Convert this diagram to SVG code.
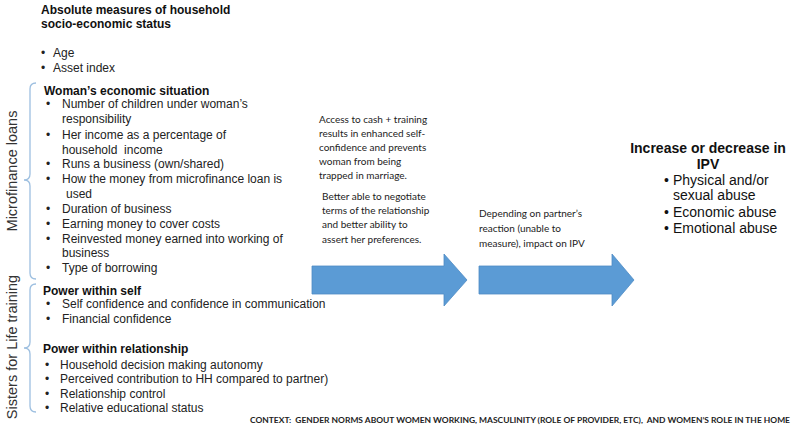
<svg xmlns="http://www.w3.org/2000/svg" width="794" height="432" viewBox="0 0 794 432">
<style>
.h{font-family:"Liberation Sans",Arial,sans-serif;font-weight:bold;font-size:12px;fill:#111}
.t{font-family:"Liberation Sans",Arial,sans-serif;font-size:12px;fill:#222}
.side{font-family:"Liberation Sans",Arial,sans-serif;font-size:14.5px;fill:#333}
.c{font-family:Lato,"Open Sans",sans-serif;font-size:10px;fill:#222}
.r{font-family:"Liberation Sans",Arial,sans-serif;font-size:14px;fill:#111}
.rb{font-family:"Liberation Sans",Arial,sans-serif;font-size:14px;font-weight:bold;fill:#111}
.ctx{font-family:Lato,"Open Sans",sans-serif;font-size:7.8px;font-weight:bold;fill:#222;white-space:pre}
.br{fill:none;stroke:#9dbfe0;stroke-width:1.3}
.arr{fill:#5b9bd5;stroke:#4f8cc4;stroke-width:0.8}
.pre{white-space:pre}
</style>
<rect width="794" height="432" fill="#fff"/>
<g id="household">
<text class="h" x="41" y="14">Absolute measures of household</text>
<text class="h" x="41" y="28">socio-economic status</text>
<text class="t" x="41" y="57">•</text><text class="t" x="53" y="57">Age</text>
<text class="t" x="41" y="72">•</text><text class="t" x="53" y="72">Asset index</text>
</g>
<g id="microfinance">
<path class="br" d="M36,83 Q30,83 30,89 L30,174 Q30,180 24,180 Q30,180 30,186 L30,273 Q30,279 36,279"/>
<text class="side" transform="translate(16.5,171) rotate(-90)" text-anchor="middle">Microfinance loans</text>
<text class="h" x="44" y="95">Woman’s economic situation</text>
<g class="t">
<text x="46" y="108">•</text><text x="62" y="108">Number of children under woman’s</text>
<text x="62" y="123">responsibility</text>
<text x="46" y="139">•</text><text x="62" y="139">Her income as a percentage of</text>
<text class="pre" x="62" y="154" xml:space="preserve">household  income</text>
<text x="46" y="168">•</text><text x="62" y="168">Runs a business (own/shared)</text>
<text x="46" y="183">•</text><text x="62" y="183">How the money from microfinance loan is</text>
<text x="66" y="198">used</text>
<text x="46" y="213">•</text><text x="62" y="213">Duration of business</text>
<text x="46" y="228">•</text><text x="62" y="228">Earning money to cover costs</text>
<text x="46" y="243">•</text><text x="62" y="243">Reinvested money earned into working of</text>
<text x="62" y="257">business</text>
<text x="46" y="272">•</text><text x="62" y="272">Type of borrowing</text>
</g>
</g>
<g id="sisters">
<path class="br" d="M36,284 Q30,284 30,290 L30,342 Q30,348 24,348 Q30,348 30,354 L30,406 Q30,412 36,412"/>
<text class="side" transform="translate(16.5,347) rotate(-90)" text-anchor="middle">Sisters for Life training</text>
<text class="h" x="43" y="295">Power within self</text>
<g class="t">
<text x="46" y="308">•</text><text x="62" y="308">Self confidence and confidence in communication</text>
<text x="46" y="323">•</text><text x="62" y="323">Financial confidence</text>
</g>
<text class="h" x="43" y="353">Power within relationship</text>
<g class="t">
<text x="45" y="369">•</text><text x="60" y="369">Household decision making autonomy</text>
<text x="45" y="383">•</text><text x="60" y="383">Perceived contribution to HH compared to partner)</text>
<text x="45" y="398">•</text><text x="60" y="398">Relationship control</text>
<text x="45" y="412">•</text><text x="60" y="412">Relative educational status</text>
</g>
</g>
<g id="mechanism">
<g class="c">
<text x="319" y="123">Access to cash + training</text>
<text x="319" y="137">results in enhanced self-</text>
<text x="319" y="151">confidence and prevents</text>
<text x="319" y="165">woman from being</text>
<text x="319" y="179">trapped in marriage.</text>
<text x="322" y="200">Better able to negotiate</text>
<text x="322" y="214">terms of the relationship</text>
<text x="322" y="228">and better ability to</text>
<text x="322" y="243">assert her preferences.</text>
</g>
</g>
<g id="partner">
<g class="c">
<text x="479" y="217">Depending on partner’s</text>
<text x="479" y="232">reaction (unable to</text>
<text x="479" y="247">measure), impact on IPV</text>
</g>
</g>
<g id="ipv">
<text class="rb" x="708" y="153" text-anchor="middle">Increase or decrease in</text>
<text class="rb" x="708" y="169" text-anchor="middle">IPV</text>
<g class="r">
<text x="664" y="185">•</text><text x="673" y="185">Physical and/or</text>
<text x="673" y="200">sexual abuse</text>
<text x="664" y="217">•</text><text x="673" y="217">Economic abuse</text>
<text x="664" y="233">•</text><text x="673" y="233">Emotional abuse</text>
</g>
</g>
<g id="connectors">
<polygon class="arr" points="312,266 444,266 444,254 467,280 444,306 444,294 312,294"/>
<polygon class="arr" points="479,266 612,266 612,254 634,280 612,306 612,294 479,294"/>
</g>
<g id="context">
<text class="ctx" x="250" y="423" textLength="540" lengthAdjust="spacingAndGlyphs" xml:space="preserve">CONTEXT:  GENDER NORMS ABOUT WOMEN WORKING, MASCULINITY (ROLE OF PROVIDER, ETC),  AND WOMEN’S ROLE IN THE HOME</text>
</g>
</svg>
